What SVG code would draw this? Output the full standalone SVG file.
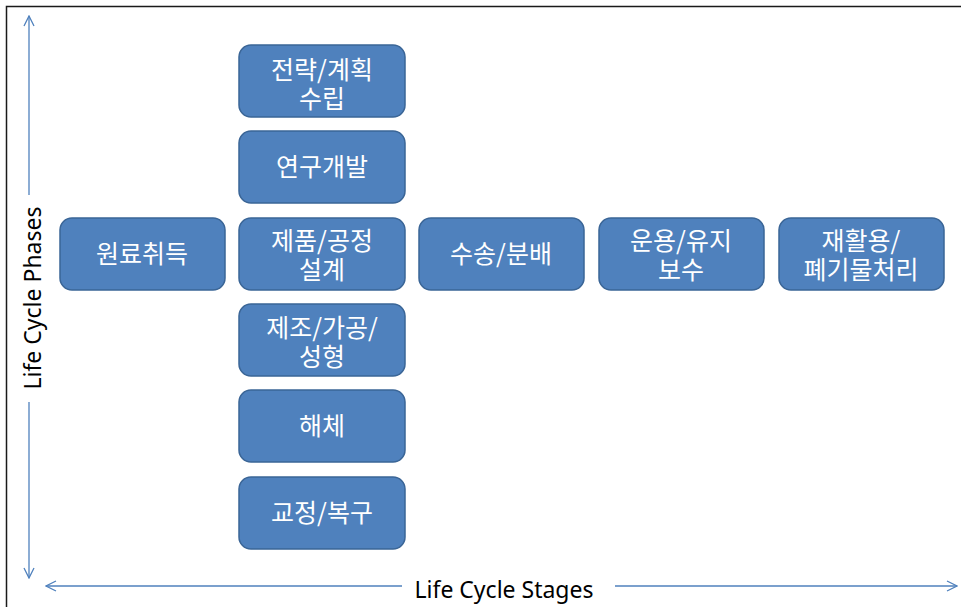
<svg xmlns="http://www.w3.org/2000/svg" width="961" height="607" viewBox="0 0 961 607">
<defs>
<style>
.box{fill:#4F81BD;stroke:#3A6596;stroke-width:1.5}
.t{fill:#ffffff;font-family:"Noto Sans CJK KR","Noto Sans",sans-serif;font-size:25px;text-anchor:middle}
.ax{stroke:#4F81BD;stroke-width:1.3;fill:none}
.lab{fill:#000;font-family:"Noto Sans","Noto Sans CJK KR",sans-serif;font-size:23px;text-anchor:middle}
</style>
<marker id="ah" viewBox="0 0 12 12" refX="11" refY="6" markerWidth="12" markerHeight="12" markerUnits="userSpaceOnUse" orient="auto">
<path d="M1,1 L11,6 L1,11" fill="none" stroke="#4F81BD" stroke-width="1.3"/>
</marker>
</defs>
<rect width="961" height="607" fill="#fff"/>
<path d="M6.5,607 V6.5 H961" fill="none" stroke="#1a1a1a" stroke-width="1.5"/>
<g id="connectors">
<line class="ax" x1="29" y1="195" x2="29" y2="16" marker-end="url(#ah)"/>
<line class="ax" x1="29" y1="402" x2="29" y2="578" marker-end="url(#ah)"/>
<line class="ax" x1="402" y1="586" x2="46" y2="586" marker-end="url(#ah)"/>
<line class="ax" x1="615" y1="586" x2="957" y2="586" marker-end="url(#ah)"/>
</g>
<text class="lab" transform="translate(41,298) rotate(-90)">Life Cycle Phases</text>
<text class="lab" x="504" y="598">Life Cycle Stages</text>
<g id="n1"><rect class="box" x="239" y="45" width="166" height="72" rx="12"/><text class="t" x="322" y="79">전략/계획</text><text class="t" x="322" y="108">수립</text></g>
<g id="n2"><rect class="box" x="239" y="131" width="166" height="72" rx="12"/><text class="t" x="322" y="176">연구개발</text></g>
<g id="n3"><rect class="box" x="239" y="218" width="166" height="72" rx="12"/><text class="t" x="322" y="250">제품/공정</text><text class="t" x="322" y="279">설계</text></g>
<g id="n4"><rect class="box" x="239" y="304" width="166" height="72" rx="12"/><text class="t" x="322" y="337">제조/가공/</text><text class="t" x="322" y="366">성형</text></g>
<g id="n5"><rect class="box" x="239" y="390" width="166" height="72" rx="12"/><text class="t" x="322" y="435">해체</text></g>
<g id="n6"><rect class="box" x="239" y="477" width="166" height="72" rx="12"/><text class="t" x="322" y="522">교정/복구</text></g>
<g id="n7"><rect class="box" x="60" y="218" width="165" height="72" rx="12"/><text class="t" x="142" y="263">원료취득</text></g>
<g id="n8"><rect class="box" x="419" y="218" width="165" height="72" rx="12"/><text class="t" x="501" y="263">수송/분배</text></g>
<g id="n9"><rect class="box" x="599" y="218" width="165" height="72" rx="12"/><text class="t" x="681" y="250">운용/유지</text><text class="t" x="681" y="279">보수</text></g>
<g id="n10"><rect class="box" x="779" y="218" width="165" height="72" rx="12"/><text class="t" x="861" y="250">재활용/</text><text class="t" x="861" y="279">폐기물처리</text></g>
</svg>
